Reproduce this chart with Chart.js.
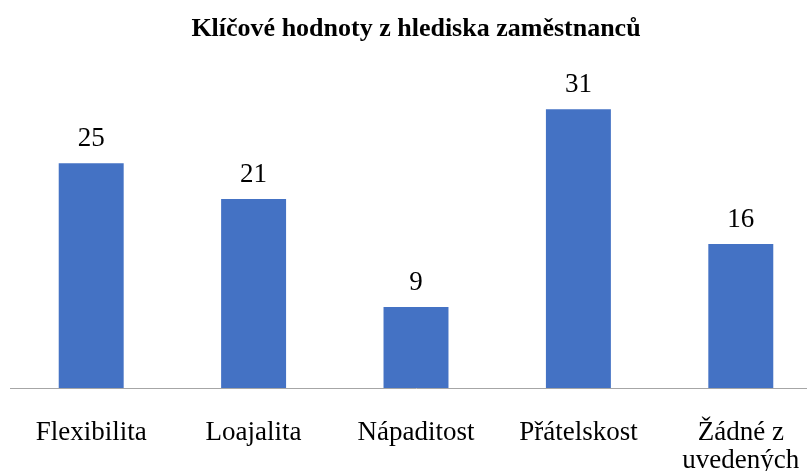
<!DOCTYPE html>
<html>
<head>
<meta charset="utf-8">
<script src="https://cdn.jsdelivr.net/npm/chart.js@4"></script>
<style>
    html, body { margin: 0; padding: 0; overflow: hidden; background: #fff; }
    #wrap { width: 826px; height: 471px; }
</style>
</head>
<body>
<div id="wrap"><canvas id="valuesChart" width="826" height="471"></canvas></div>
<script>
// Data
const categories = ['Flexibilita', 'Loajalita', 'Nápaditost', 'Přátelskost', ['Žádné z', 'uvedených']];
const counts = [25, 21, 9, 31, 16];

const serif = '"Liberation Serif", "Times New Roman", serif';

// Value labels above the bars
const valueLabels = {
    id: 'valueLabels',
    afterDatasetsDraw(chart) {
        const ctx = chart.ctx;
        const meta = chart.getDatasetMeta(0);
        ctx.save();
        ctx.font = '27px ' + serif;
        ctx.fillStyle = '#000';
        ctx.textAlign = 'center';
        ctx.textBaseline = 'middle';
        meta.data.forEach((bar, i) => {
            ctx.fillText(counts[i], bar.x, bar.y - 24);
        });
        ctx.restore();
    }
};

const ctx = document.getElementById('valuesChart').getContext('2d');
const valuesChart = new Chart(ctx, {
    type: 'bar',
    data: {
        labels: categories,
        datasets: [{
            data: counts,
            backgroundColor: '#4472C4',
            categoryPercentage: 1,
            barPercentage: 0.4
        }]
    },
    options: {
        responsive: false,
        animation: false,
        layout: { padding: { left: 10, right: 4 } },
        plugins: {
            legend: { display: false },
            tooltip: { enabled: false },
            title: {
                display: true,
                text: 'Klíčové hodnoty z hlediska zaměstnanců',
                color: '#000',
                font: { family: serif, size: 26, weight: 'bold', lineHeight: 1.2 },
                padding: { top: 14, bottom: 28 }
            }
        },
        scales: {
            x: {
                grid: { display: false },
                border: { color: '#A6A6A6', width: 1 },
                ticks: {
                    color: '#000',
                    font: { family: serif, size: 27, lineHeight: 1.07 },
                    padding: 22,
                    maxRotation: 0,
                    autoSkip: false
                },
                afterFit(scale) { scale.height = 83; }
            },
            y: {
                display: false,
                min: 0,
                max: 35
            }
        }
    },
    plugins: [valueLabels]
});
</script>
</body>
</html>
